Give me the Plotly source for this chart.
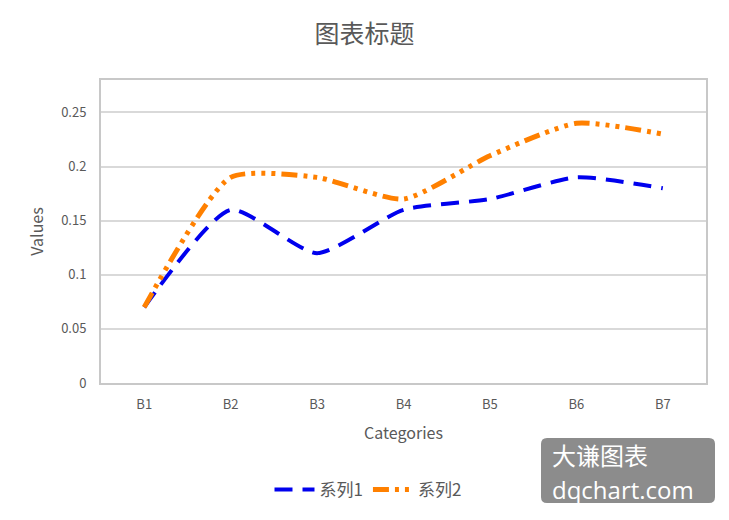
import plotly.graph_objects as go

categories = ["B1", "B2", "B3", "B4", "B5", "B6", "B7"]
series1 = [0.07, 0.16, 0.12, 0.16, 0.17, 0.19, 0.18]
series2 = [0.07, 0.19, 0.19, 0.17, 0.21, 0.24, 0.23]
yticks = [0, 0.05, 0.1, 0.15, 0.2, 0.25]
yticklabels = ["0", "0.05", "0.1", "0.15", "0.2", "0.25"]

font_family = "Noto Sans CJK SC, Open Sans, sans-serif"
grey = "#595959"

# plot area in pixels
L, R, T, B = 101, 706, 80, 383
PW, PH = R - L, B - T


def px(x):
    return (x - L) / PW


def py(y):
    return (B - y) / PH


# rounded watermark box
x0, x1, y0, y1, r = 541, 715, 438, 503, 6
path = (
    f"M {px(x0 + r)},{py(y0)} L {px(x1 - r)},{py(y0)} Q {px(x1)},{py(y0)} {px(x1)},{py(y0 + r)} "
    f"L {px(x1)},{py(y1 - r)} Q {px(x1)},{py(y1)} {px(x1 - r)},{py(y1)} "
    f"L {px(x0 + r)},{py(y1)} Q {px(x0)},{py(y1)} {px(x0)},{py(y1 - r)} "
    f"L {px(x0)},{py(y0 + r)} Q {px(x0)},{py(y0)} {px(x0 + r)},{py(y0)} Z"
)

fig = go.Figure()
fig.add_trace(go.Scatter(
    x=categories, y=series1, name="系列1", mode="lines",
    line=dict(color="#0000ee", width=4, dash="18px,10px", shape="spline", smoothing=0.6),
))
fig.add_trace(go.Scatter(
    x=categories, y=series2, name="系列2", mode="lines",
    line=dict(color="#ff8000", width=5, dash="16px,6px,4px,6px,4px,6px,4px,6px",
              shape="spline", smoothing=0.6),
))

fig.update_layout(
    width=729, height=520,
    margin=dict(l=L, r=729 - R, t=T, b=520 - B, autoexpand=False),
    paper_bgcolor="white", plot_bgcolor="white",
    font=dict(family=font_family, color=grey, size=13),
    title=dict(text="图表标题", x=0.5, xanchor="center", y=0.935, yanchor="middle",
               font=dict(size=25, color=grey, family=font_family)),
    xaxis=dict(
        title=dict(text="Categories", font=dict(size=16, color=grey), standoff=16),
        range=[-0.5, 6.5], showgrid=False, showline=True, linecolor="#c8c8c8",
        linewidth=2, mirror=True, ticks="", tickfont=dict(size=13, color=grey),
        ticklabelstandoff=8,
    ),
    yaxis=dict(
        title=dict(text="Values", font=dict(size=16, color=grey), standoff=14),
        range=[0, 0.28], tickvals=yticks, ticktext=yticklabels,
        showgrid=True, gridcolor="#d9d9d9", gridwidth=2,
        showline=True, linecolor="#c8c8c8", linewidth=2, mirror=True,
        zeroline=False, ticks="", tickfont=dict(size=13, color=grey),
        ticklabelstandoff=10,
    ),
    legend=dict(orientation="h", x=px(368), xanchor="center",
                y=py(490), yanchor="middle",
                font=dict(size=17, color=grey), itemwidth=40),
    shapes=[dict(type="path", xref="paper", yref="paper", layer="above",
                 path=path, fillcolor="#8c8c8c", line=dict(width=0))],
    annotations=[
        dict(text="大谦图表", xref="paper", yref="paper",
             x=px(550), xanchor="left", y=py(454), yanchor="middle",
             showarrow=False, font=dict(size=24, color="white", family=font_family)),
        dict(text="dqchart.com", xref="paper", yref="paper",
             x=px(550), xanchor="left", y=py(489), yanchor="middle",
             showarrow=False, font=dict(size=24, color="white", family="Open Sans")),
    ],
)

fig.write_html("out.html")
